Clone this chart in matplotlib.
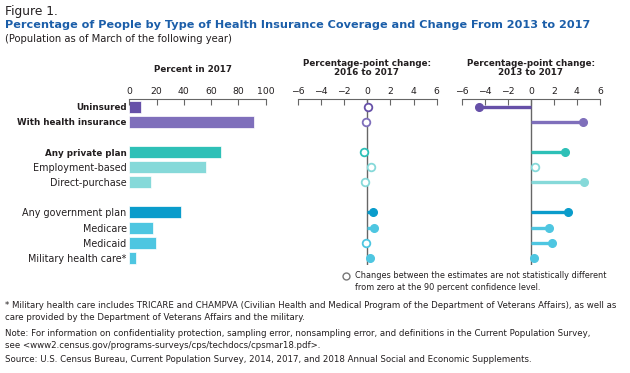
import matplotlib
matplotlib.use("Agg")
import matplotlib.pyplot as plt
import numpy as np

plt.rcParams['font.family'] = ['DejaVu Sans']

categories = ["Uninsured", "With health insurance", "Any private plan", "Employment-based",
              "Direct-purchase", "Any government plan", "Medicare", "Medicaid",
              "Military health care*"]
bold_cats = ["Uninsured", "With health insurance", "Any private plan"]
positions = [0, 1, 3, 4, 5, 7, 8, 9, 10]
pct_2017 = [8.8, 91.2, 67.2, 56.0, 16.0, 37.7, 17.2, 19.3, 4.8]
chg_2016_2017 = [0.1, -0.1, -0.3, 0.3, -0.2, 0.5, 0.6, -0.1, 0.2]
sig_2016_2017 = [False, False, False, False, False, True, True, False, True]
chg_2013_2017 = [-4.5, 4.5, 3.0, 0.4, 4.6, 3.2, 1.6, 1.8, 0.3]
sig_2013_2017 = [True, True, True, False, True, True, True, True, True]
colors = ['#6650a8', '#7f6fbb', '#2ec0b7', '#86d9d9', '#86d9d9',
          '#0a9ccb', '#4ec6e1', '#4ec6e1', '#4ec6e1']

W, H = 630, 373
fig = plt.figure(figsize=(W / 100, H / 100), dpi=100)

def fx(px):
    return px / W

def fy(py):
    return 1 - py / H

def ftext(px, py, s, **kw):
    kw.setdefault('va', 'center')
    fig.text(fx(px), fy(py), s, **kw)

grey = '#666666'
txt = '#231f20'
top_px, bot_px = 99.2, 265.3

def make_ax(left_px, right_px):
    ax = fig.add_axes([fx(left_px), fy(bot_px), (right_px - left_px) / W, (bot_px - top_px) / H])
    for s in ['left', 'right', 'bottom']:
        ax.spines[s].set_visible(False)
    ax.spines['top'].set_color(grey)
    ax.spines['top'].set_linewidth(0.8)
    ax.xaxis.tick_top()
    ax.tick_params(axis='x', direction='in', length=4, width=0.8, color=grey,
                   labelsize=6.7, labelcolor=txt, pad=2)
    ax.set_ylim(10.5, -0.5)
    ax.set_facecolor('none')
    return ax

# Panel 1: bars
ax1 = make_ax(129.3, 265.7)
ax1.barh(positions, pct_2017, height=0.8, color=colors, edgecolor='white', linewidth=0.5)
ax1.set_xlim(0, 100)
ax1.set_xticks([0, 20, 40, 60, 80, 100])
ax1.set_yticks(positions)
ax1.set_yticklabels(categories)
ax1.tick_params(axis='y', length=0, pad=2, labelsize=6.9, labelcolor=txt)
for lab in ax1.get_yticklabels():
    if lab.get_text() in bold_cats:
        lab.set_fontweight('bold')
        lab.set_fontsize(6.3)

def lollipop(ax, vals, sig):
    ax.axvline(0, color=grey, lw=1.0, zorder=1)
    for p, v, s, c in zip(positions, vals, sig, colors):
        ax.plot([0, v], [p, p], color=c, lw=2.4, solid_capstyle='butt', zorder=2)
        if s:
            ax.plot([v], [p], 'o', color=c, ms=5.5, zorder=3)
        else:
            ax.plot([v], [p], 'o', mfc='white', mec=c, mew=1.3, ms=5.5, zorder=3)
    ax.set_xlim(-6, 6)
    ax.set_xticks([-6, -4, -2, 0, 2, 4, 6])
    ax.set_xticklabels(['\u22126', '\u22124', '\u22122', '0', '2', '4', '6'])
    ax.set_yticks([])

ax2 = make_ax(297.7, 436.7)
lollipop(ax2, chg_2016_2017, sig_2016_2017)
ax3 = make_ax(461.7, 600.0)
lollipop(ax3, chg_2013_2017, sig_2013_2017)

# Panel titles
ftext(193, 69, "Percent in 2017", ha='center', fontsize=6.3, fontweight='bold', color=txt)
ftext(367, 68, "Percentage-point change:\n2016 to 2017", ha='center', fontsize=6.3,
      fontweight='bold', color=txt, linespacing=1.1)
ftext(531, 68, "Percentage-point change:\n2013 to 2017", ha='center', fontsize=6.3,
      fontweight='bold', color=txt, linespacing=1.1)

# Header
ftext(5, 11, "Figure 1.", fontsize=8.8, color=txt)
ftext(5, 25, "Percentage of People by Type of Health Insurance Coverage and Change From 2013 to 2017",
      fontsize=8.15, fontweight='bold', color='#1b5ea9')
ftext(5, 39, "(Population as of March of the following year)", fontsize=7.2, color=txt)

# Legend
fig.lines.append(matplotlib.lines.Line2D([fx(346)], [fy(276)], marker='o', mfc='white',
                                         mec='#777777', mew=1.0, ms=5, transform=fig.transFigure))
ftext(355, 276, "Changes between the estimates are not statistically different", fontsize=5.85, color=txt)
ftext(355, 288, "from zero at the 90 percent confidence level.", fontsize=5.85, color=txt)

# Footnotes
fs = 6.2
ftext(5, 305, "* Military health care includes TRICARE and CHAMPVA (Civilian Health and Medical Program of the Department of Veterans Affairs), as well as",
      fontsize=fs, color=txt)
ftext(5, 318, "care provided by the Department of Veterans Affairs and the military.", fontsize=fs, color=txt)
ftext(5, 333, "Note: For information on confidentiality protection, sampling error, nonsampling error, and definitions in the Current Population Survey,",
      fontsize=fs, color=txt)
ftext(5, 345, "see <www2.census.gov/programs-surveys/cps/techdocs/cpsmar18.pdf>.", fontsize=fs, color=txt)
ftext(5, 360, "Source: U.S. Census Bureau, Current Population Survey, 2014, 2017, and 2018 Annual Social and Economic Supplements.",
      fontsize=fs, color=txt)

fig.savefig("out.png", dpi=100, facecolor='white')
